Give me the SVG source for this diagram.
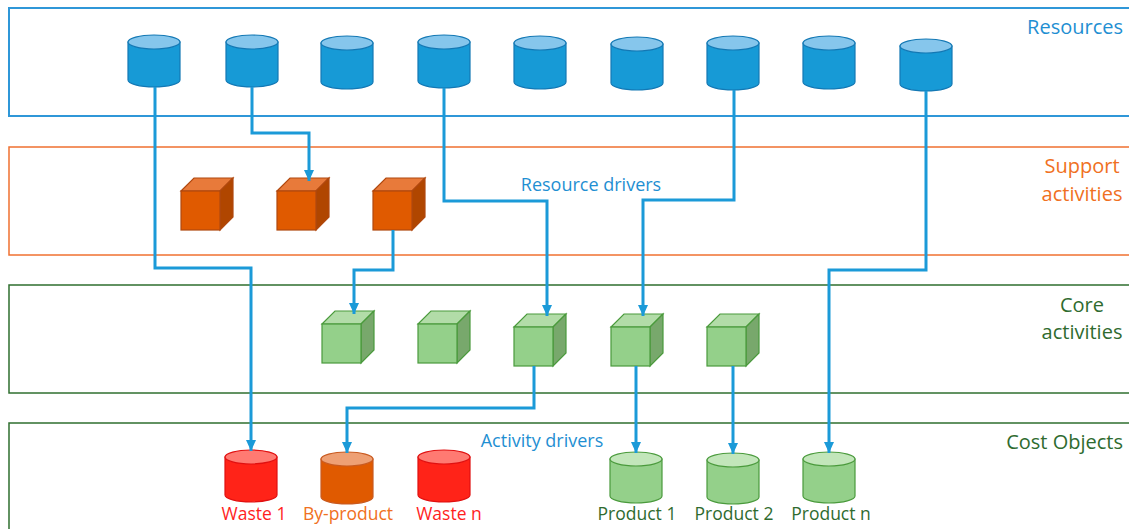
<svg xmlns="http://www.w3.org/2000/svg" width="1129" height="529" viewBox="0 0 1129 529">
  <defs>
    <style>
      text { font-family: "Open Sans", "Noto Sans", "Liberation Sans", sans-serif; }
      .band-res { fill: none; stroke: #2f97d8; stroke-width: 2; }
      .band-sup { fill: none; stroke: #f07030; stroke-width: 1.5; }
      .band-core { fill: none; stroke: #2f6f2f; stroke-width: 1.5; }
      .lbl-res { fill: #1f8fd2; font-size: 20px; }
      .lbl-sup { fill: #f07022; font-size: 20px; }
      .lbl-core { fill: #2f6b2f; font-size: 20px; }
      .driver { fill: #1f8fd2; font-size: 18px; }
      .obj-lbl { font-size: 17.5px; text-anchor: middle; }
      .conn { fill: none; stroke: #1b9ad8; stroke-width: 3; stroke-linejoin: miter; }
      .cyl-res .body { fill: #179ad6; stroke: #1378b4; stroke-width: 1.2; }
      .cyl-res .top { fill: #86c6ec; stroke: #1378b4; stroke-width: 1.2; }
      .cyl-waste .body { fill: #ff2318; stroke: #e01010; stroke-width: 1.2; }
      .cyl-waste .top { fill: #ff7a72; stroke: #e01010; stroke-width: 1.2; }
      .cyl-by .body { fill: #e05a00; stroke: #c85a20; stroke-width: 1.2; }
      .cyl-by .top { fill: #eea074; stroke: #c85a20; stroke-width: 1.2; }
      .cyl-prod .body { fill: #94d08a; stroke: #4a9a3c; stroke-width: 1.2; }
      .cyl-prod .top { fill: #c2e6ba; stroke: #4a9a3c; stroke-width: 1.2; }
      .cube-sup .front { fill: #e05a00; stroke: #b0480e; stroke-width: 1.2; }
      .cube-sup .topf { fill: #e87a3a; stroke: #b0480e; stroke-width: 1.2; }
      .cube-sup .side { fill: #b04600; stroke: #b0480e; stroke-width: 1.2; }
      .cube-core .front { fill: #94d08a; stroke: #4a9a3c; stroke-width: 1.2; }
      .cube-core .topf { fill: #b2dca8; stroke: #4a9a3c; stroke-width: 1.2; }
      .cube-core .side { fill: #78a86c; stroke: #4a9a3c; stroke-width: 1.2; }
    </style>
    <marker id="arrow" markerUnits="userSpaceOnUse" markerWidth="12" markerHeight="12" viewBox="0 0 12 12" refX="11" refY="6" orient="auto">
      <path d="M0,1 L11,6 L0,11 Z" fill="#1b9ad8"/>
    </marker>
  </defs>

  <rect width="1129" height="529" fill="#ffffff"/>

  <!-- swim-lane bands -->
  <g id="bands">
    <rect class="band-res" x="9" y="8" width="1140" height="108"/>
    <rect class="band-sup" x="9" y="147" width="1140" height="108"/>
    <rect class="band-core" x="9" y="285" width="1140" height="108"/>
    <rect class="band-core" x="9" y="423" width="1140" height="130"/>
    <text class="lbl-res" x="1123" y="34" text-anchor="end">Resources</text>
    <text class="lbl-sup" x="1082" y="173" text-anchor="middle">Support</text>
    <text class="lbl-sup" x="1082" y="201" text-anchor="middle">activities</text>
    <text class="lbl-core" x="1082" y="312" text-anchor="middle">Core</text>
    <text class="lbl-core" x="1082" y="339" text-anchor="middle">activities</text>
    <text class="lbl-core" x="1123" y="449" text-anchor="end">Cost Objects</text>
  </g>

  <!-- resources -->
  <g id="res1" class="cyl-res"><path class="body" d="M128,42 V80 A26,7 0 0 0 180,80 V42 Z"/><ellipse class="top" cx="154" cy="42" rx="26" ry="7"/></g>
  <g id="res2" class="cyl-res"><path class="body" d="M226,42 V80 A26,7 0 0 0 278,80 V42 Z"/><ellipse class="top" cx="252" cy="42" rx="26" ry="7"/></g>
  <g id="res3" class="cyl-res"><path class="body" d="M321,43 V82 A26,7 0 0 0 373,82 V43 Z"/><ellipse class="top" cx="347" cy="43" rx="26" ry="7"/></g>
  <g id="res4" class="cyl-res"><path class="body" d="M418,42 V81 A26,7 0 0 0 470,81 V42 Z"/><ellipse class="top" cx="444" cy="42" rx="26" ry="7"/></g>
  <g id="res5" class="cyl-res"><path class="body" d="M514,43 V82 A26,7 0 0 0 566,82 V43 Z"/><ellipse class="top" cx="540" cy="43" rx="26" ry="7"/></g>
  <g id="res6" class="cyl-res"><path class="body" d="M611,44 V83 A26,7 0 0 0 663,83 V44 Z"/><ellipse class="top" cx="637" cy="44" rx="26" ry="7"/></g>
  <g id="res7" class="cyl-res"><path class="body" d="M707,43 V83 A26,7 0 0 0 759,83 V43 Z"/><ellipse class="top" cx="733" cy="43" rx="26" ry="7"/></g>
  <g id="res8" class="cyl-res"><path class="body" d="M803,43 V82 A26,7 0 0 0 855,82 V43 Z"/><ellipse class="top" cx="829" cy="43" rx="26" ry="7"/></g>
  <g id="res9" class="cyl-res"><path class="body" d="M900,46 V84 A26,7 0 0 0 952,84 V46 Z"/><ellipse class="top" cx="926" cy="46" rx="26" ry="7"/></g>

  <!-- support activities -->
  <g id="sup1" class="cube-sup">
    <polygon class="topf" points="181,191 194,178 233,178 220,191"/>
    <polygon class="side" points="220,191 233,178 233,217 220,230"/>
    <rect class="front" x="181" y="191" width="39" height="39"/>
  </g>
  <g id="sup2" class="cube-sup">
    <polygon class="topf" points="277,191 290,178 329,178 316,191"/>
    <polygon class="side" points="316,191 329,178 329,217 316,230"/>
    <rect class="front" x="277" y="191" width="39" height="39"/>
  </g>
  <g id="sup3" class="cube-sup">
    <polygon class="topf" points="373,191 386,178 425,178 412,191"/>
    <polygon class="side" points="412,191 425,178 425,217 412,230"/>
    <rect class="front" x="373" y="191" width="39" height="39"/>
  </g>

  <!-- core activities -->
  <g id="core1" class="cube-core">
    <polygon class="topf" points="322,324 335,311 374,311 361,324"/>
    <polygon class="side" points="361,324 374,311 374,350 361,363"/>
    <rect class="front" x="322" y="324" width="39" height="39"/>
  </g>
  <g id="core2" class="cube-core">
    <polygon class="topf" points="418,324 431,311 470,311 457,324"/>
    <polygon class="side" points="457,324 470,311 470,350 457,363"/>
    <rect class="front" x="418" y="324" width="39" height="39"/>
  </g>
  <g id="core3" class="cube-core">
    <polygon class="topf" points="514,327 527,314 566,314 553,327"/>
    <polygon class="side" points="553,327 566,314 566,353 553,366"/>
    <rect class="front" x="514" y="327" width="39" height="39"/>
  </g>
  <g id="core4" class="cube-core">
    <polygon class="topf" points="611,327 624,314 663,314 650,327"/>
    <polygon class="side" points="650,327 663,314 663,353 650,366"/>
    <rect class="front" x="611" y="327" width="39" height="39"/>
  </g>
  <g id="core5" class="cube-core">
    <polygon class="topf" points="707,327 720,314 759,314 746,327"/>
    <polygon class="side" points="746,327 759,314 759,353 746,366"/>
    <rect class="front" x="707" y="327" width="39" height="39"/>
  </g>

  <!-- cost objects -->
  <g id="waste1" class="cyl-waste">
    <path class="body" d="M225,457 V495 A26,7 0 0 0 277,495 V457 Z"/><ellipse class="top" cx="251" cy="457" rx="26" ry="7"/>
    <text class="obj-lbl" x="254" y="520" fill="#ff1e1e">Waste 1</text>
  </g>
  <g id="byproduct" class="cyl-by">
    <path class="body" d="M321,459 V497 A26,7 0 0 0 373,497 V459 Z"/><ellipse class="top" cx="347" cy="459" rx="26" ry="7"/>
    <text class="obj-lbl" x="348" y="520" fill="#f07022">By-product</text>
  </g>
  <g id="wasten" class="cyl-waste">
    <path class="body" d="M418,457 V495 A26,7 0 0 0 470,495 V457 Z"/><ellipse class="top" cx="444" cy="457" rx="26" ry="7"/>
    <text class="obj-lbl" x="449" y="520" fill="#ff1e1e">Waste n</text>
  </g>
  <g id="product1" class="cyl-prod">
    <path class="body" d="M610,459 V496 A26,7 0 0 0 662,496 V459 Z"/><ellipse class="top" cx="636" cy="459" rx="26" ry="7"/>
    <text class="obj-lbl" x="637" y="520" fill="#2f6b2f">Product 1</text>
  </g>
  <g id="product2" class="cyl-prod">
    <path class="body" d="M707,460 V497 A26,7 0 0 0 759,497 V460 Z"/><ellipse class="top" cx="733" cy="460" rx="26" ry="7"/>
    <text class="obj-lbl" x="734" y="520" fill="#2f6b2f">Product 2</text>
  </g>
  <g id="productn" class="cyl-prod">
    <path class="body" d="M803,459 V496 A26,7 0 0 0 855,496 V459 Z"/><ellipse class="top" cx="829" cy="459" rx="26" ry="7"/>
    <text class="obj-lbl" x="831" y="520" fill="#2f6b2f">Product n</text>
  </g>

  <!-- drivers -->
  <g id="connectors">
    <polyline class="conn" points="155,87 155,268 251,268 251,451" marker-end="url(#arrow)"/>
    <polyline class="conn" points="252,87 252,133 309,133 309,181" marker-end="url(#arrow)"/>
    <polyline class="conn" points="444,88 444,201 547,201 547,316" marker-end="url(#arrow)"/>
    <polyline class="conn" points="734,90 734,200 643,200 643,316" marker-end="url(#arrow)"/>
    <polyline class="conn" points="926,91 926,270 829,270 829,453" marker-end="url(#arrow)"/>
    <polyline class="conn" points="393,230 393,270 354,270 354,314" marker-end="url(#arrow)"/>
    <polyline class="conn" points="534,366 534,408 347,408 347,453" marker-end="url(#arrow)"/>
    <polyline class="conn" points="636,366 636,453" marker-end="url(#arrow)"/>
    <polyline class="conn" points="733,366 733,454" marker-end="url(#arrow)"/>
    <text class="driver" x="591" y="191" text-anchor="middle">Resource drivers</text>
    <text class="driver" x="542" y="447" text-anchor="middle">Activity drivers</text>
  </g>
</svg>
